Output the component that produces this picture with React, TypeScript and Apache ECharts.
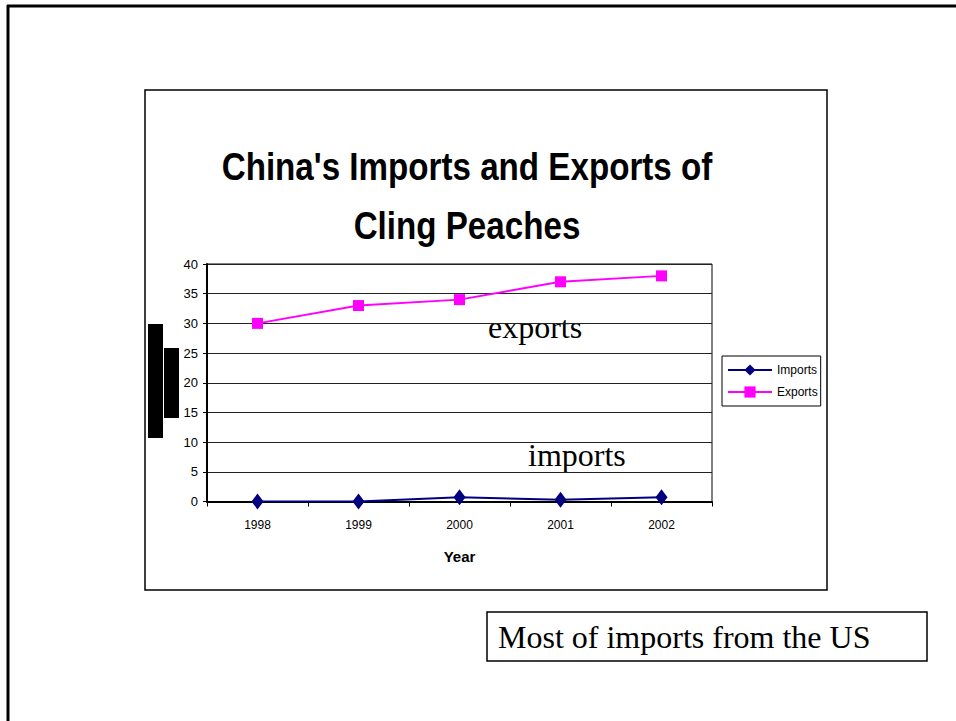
import React, { useEffect, useRef } from "react";
import * as echarts from "echarts";

const years = ["1998", "1999", "2000", "2001", "2002"];
const importsData = [0, 0, 0.7, 0.3, 0.7];
const exportsData = [30, 33, 34, 37, 38];
const yTicks = { min: 0, max: 40, interval: 5 };

const SANS = "'Liberation Sans', Arial, sans-serif";
const SERIF = "'Liberation Serif', 'Times New Roman', serif";

export default function App() {
  const ref = useRef<HTMLDivElement>(null);
  useEffect(() => {
    if (!ref.current) return;
    const chart = echarts.init(ref.current, null, { renderer: "svg" });
    chart.setOption({
      animation: false,
      backgroundColor: "#fff",
      grid: { left: 207, top: 264, right: 244, bottom: 219.5, show: true, borderColor: "#000", borderWidth: 1 },
      xAxis: {
        type: "category",
        data: years,
        boundaryGap: true,
        name: "Year",
        nameLocation: "middle",
        nameGap: 47,
        nameTextStyle: { fontFamily: SANS, fontWeight: "bold", fontSize: 15, color: "#000" },
        axisLine: { lineStyle: { color: "#000", width: 2 } },
        axisTick: { show: true, length: 5, lineStyle: { color: "#000" } },
        axisLabel: { fontFamily: SANS, fontSize: 12, color: "#000", margin: 17 },
        splitLine: { show: false },
      },
      yAxis: {
        type: "value",
        min: yTicks.min,
        max: yTicks.max,
        interval: yTicks.interval,
        axisLine: { show: true, lineStyle: { color: "#000", width: 2 } },
        axisTick: { show: true, length: 4, lineStyle: { color: "#000" } },
        axisLabel: { fontFamily: SANS, fontSize: 13, color: "#000", margin: 9 },
        splitLine: { show: true, lineStyle: { color: "#222", width: 1 } },
      },
      legend: {
        orient: "vertical",
        left: 722,
        top: 356,
        padding: [8, 3, 8, 5],
        itemGap: 10,
        itemWidth: 44,
        itemHeight: 14,
        borderColor: "#000",
        borderWidth: 1,
        textStyle: { fontFamily: SANS, fontSize: 12, color: "#000" },
        data: ["Imports", "Exports"],
      },
      series: [
        {
          name: "Imports",
          type: "line",
          data: importsData,
          symbol: "diamond",
          symbolSize: [12, 16],
          lineStyle: { color: "#000080", width: 2 },
          itemStyle: { color: "#000080" },
          z: 3,
        },
        {
          name: "Exports",
          type: "line",
          data: exportsData,
          symbol: "rect",
          symbolSize: 11,
          lineStyle: { color: "#FF00FF", width: 2 },
          itemStyle: { color: "#FF00FF" },
          z: 2,
        },
      ],
      graphic: [
        { type: "line", shape: { x1: 7, y1: 6, x2: 956, y2: 6 }, style: { stroke: "#000", lineWidth: 3 } },
        { type: "line", shape: { x1: 8, y1: 5, x2: 8, y2: 721 }, style: { stroke: "#000", lineWidth: 3 } },
        { type: "rect", shape: { x: 145, y: 90, width: 682, height: 500 }, style: { fill: "none", stroke: "#000", lineWidth: 1.5 }, z: -1 },
        { type: "text", x: 467, y: 167, scaleX: 0.873, style: { text: "China's Imports and Exports of", font: `bold 38px ${SANS}`, fill: "#000", textAlign: "center", textVerticalAlign: "middle" } },
        { type: "text", x: 467, y: 226, scaleX: 0.873, style: { text: "Cling Peaches", font: `bold 38px ${SANS}`, fill: "#000", textAlign: "center", textVerticalAlign: "middle" } },
        { type: "rect", shape: { x: 148, y: 324, width: 15, height: 114 }, style: { fill: "#000" } },
        { type: "rect", shape: { x: 164, y: 348, width: 15, height: 70 }, style: { fill: "#000" } },
        { type: "text", x: 488, y: 327, style: { text: "exports", font: `32px ${SERIF}`, fill: "#000", textVerticalAlign: "middle" } },
        { type: "text", x: 528, y: 455, style: { text: "imports", font: `32px ${SERIF}`, fill: "#000", textVerticalAlign: "middle" } },
        { type: "rect", shape: { x: 487, y: 612, width: 440, height: 49 }, style: { fill: "#fff", stroke: "#000", lineWidth: 1.5 } },
        { type: "text", x: 498, y: 637, style: { text: "Most of imports from the US", font: `32px ${SERIF}`, fill: "#000", textVerticalAlign: "middle" } },
      ],
    });
    return () => chart.dispose();
  }, []);
  return <div ref={ref} style={{ position: "fixed", left: 0, top: 0, width: 956, height: 721 }} />;
}
